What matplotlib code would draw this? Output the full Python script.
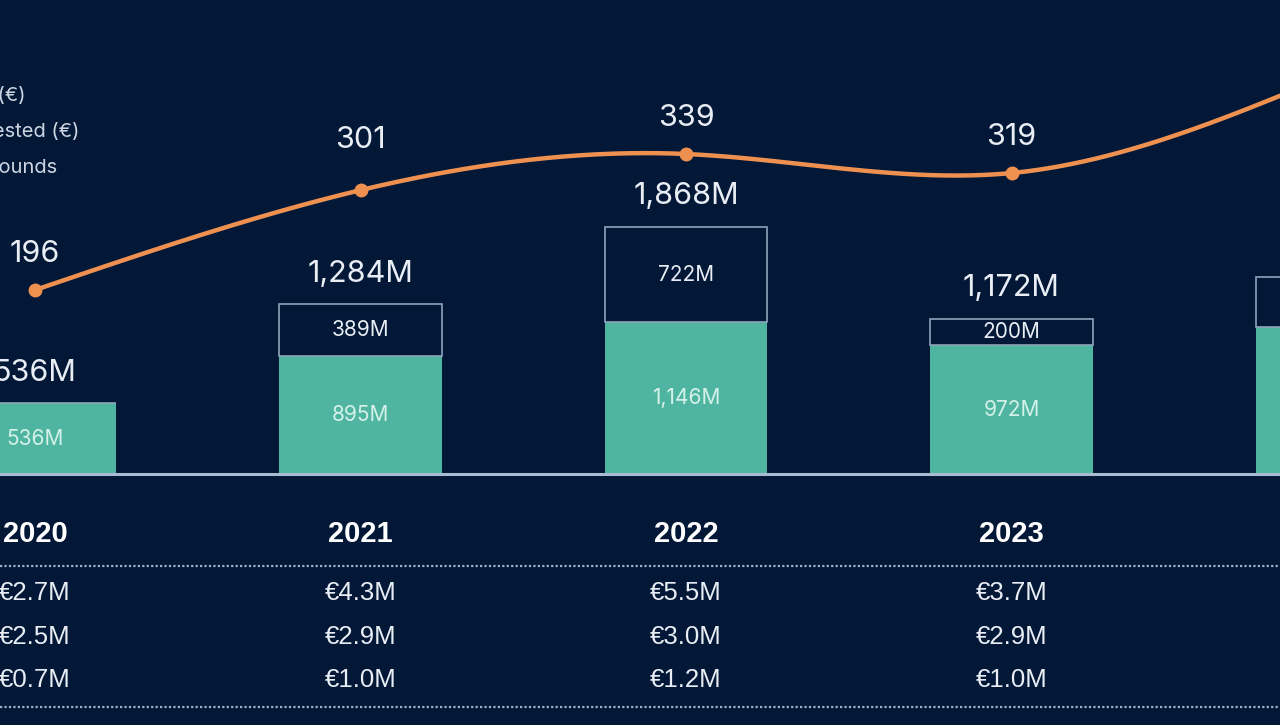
import numpy as np
import matplotlib.pyplot as plt

# data
years = ["2020", "2021", "2022", "2023", "2024"]
invested = [536, 895, 1146, 972, 1110]      # green part (M€)
extra = [0, 389, 722, 200, 380]            # outlined part (M€)
rounds = [196, 301, 339, 319, 425]
row_a = ["€2.7M", "€4.3M", "€5.5M", "€3.7M", ""]
row_b = ["€2.5M", "€2.9M", "€3.0M", "€2.9M", ""]
row_c = ["€0.7M", "€1.0M", "€1.2M", "€1.0M", ""]
legend_labels = ["Total raised (€)", "Total invested (€)", "Number of rounds"]
n_shown = 4  # the 2024 column is cropped off in the reference

BG = "#031737"
GREEN = "#4fb5a0"
ORANGE = "#ee9150"
EDGE = "#8ea3ba"
TXT = "#e9eef5"
W, H = 1280, 725

def fy(px):
    # figure fraction from a pixel row
    return 1 - px / H

def smooth(x, y, n=400):
    # natural cubic spline through the points
    x = np.asarray(x, float); y = np.asarray(y, float)
    k = len(x)
    h = np.diff(x)
    A = np.zeros((k, k)); b = np.zeros(k)
    A[0, 0] = A[-1, -1] = 1
    for i in range(1, k - 1):
        A[i, i - 1] = h[i - 1]; A[i, i] = 2 * (h[i - 1] + h[i]); A[i, i + 1] = h[i]
        b[i] = 3 * ((y[i + 1] - y[i]) / h[i] - (y[i] - y[i - 1]) / h[i - 1])
    c = np.linalg.solve(A, b)
    xs = np.linspace(x[0], x[-1], n)
    idx = np.clip(np.searchsorted(x, xs) - 1, 0, k - 2)
    dx = xs - x[idx]
    bb = (y[idx + 1] - y[idx]) / h[idx] - h[idx] * (2 * c[idx] + c[idx + 1]) / 3
    dd = (c[idx + 1] - c[idx]) / (3 * h[idx])
    return xs, y[idx] + bb * dx + c[idx] * dx ** 2 + dd * dx ** 3

plt.rcParams['font.family'] = ['Inter', 'DejaVu Sans']

fig = plt.figure(figsize=(W / 100, H / 100), dpi=100, facecolor=BG)
ax = fig.add_axes([0, 0, 1, 1], facecolor=BG)
x = np.arange(len(years))
px_per_m = 0.1323
ax.set_xlim(-35 / 325.5, (W - 35) / 325.5)
ax.set_ylim(-(H - 474) / px_per_m, 474 / px_per_m)
ax.axis("off")

totals = [a + b for a, b in zip(invested, extra)]
ax.bar(x, invested, width=0.5, color=GREEN, zorder=2)
ax.bar(x, extra, width=0.5, bottom=invested, facecolor=BG, edgecolor=EDGE,
       linewidth=1.2, zorder=2)
ax.axhline(0, color="#a8bbd0", lw=2.2, zorder=3)

for i in x[:n_shown]:
    ax.annotate(f"{totals[i]:,}M", (i, totals[i]), xytext=(0, 22), textcoords="offset points",
                ha="center", va="center", fontsize=22, color=TXT)
    ax.text(i, invested[i] / 2, f"{invested[i]:,}M", ha="center", va="center",
            fontsize=15, color="#d6f1ea", zorder=4)
    if extra[i]:
        ax.text(i, invested[i] + extra[i] / 2, f"{extra[i]:,}M", ha="center", va="center",
                fontsize=15, color=TXT, zorder=4)

# rounds line on its own scale
ax2 = ax.twinx()
ax2.set_position([0, 0, 1, 1])
ax2.axis("off")
ax2.set_ylim(196 - (H - 290) / 0.951, 196 + 290 / 0.951)
xs, ys = smooth(x, rounds)
ax2.plot(xs, ys, color=ORANGE, lw=3.2, solid_capstyle="round", zorder=5)
ax2.plot(x, rounds, "o", color=ORANGE, ms=9, zorder=6)
label_off = [26, 36, 26, 26, 26]
for i in x[:n_shown]:
    ax2.annotate(str(rounds[i]), (i, rounds[i]), xytext=(0, label_off[i]),
                 textcoords="offset points", ha="center", va="center",
                 fontsize=22, color=TXT)

# legend text (mostly outside the crop)
for lab, (px, py) in zip(legend_labels, [(26, 96), (79, 132), (57, 168)]):
    fig.text(px / W, fy(py), lab, ha="right", va="center", fontsize=14.5, color="#cdd6e2")

# table under the chart
tr = ax.get_xaxis_transform()
for i in x[:n_shown]:
    ax.text(i, fy(534), years[i], transform=tr, ha="center", va="center",
            fontsize=21, fontweight="bold", color="white", family="Liberation Sans")
    for row, py in zip([row_a, row_b, row_c], [593, 637, 680]):
        ax.text(i, fy(py), row[i], transform=tr, ha="center", va="center",
                fontsize=18.5, color=TXT, family="Liberation Sans")
for py in [566, 707]:
    fig.add_artist(plt.Line2D([0, 1], [fy(py), fy(py)], color="#9fb0c6", lw=1.6,
                              linestyle=(0, (1, 1))))

fig.savefig("out.png", dpi=100, facecolor=BG)
